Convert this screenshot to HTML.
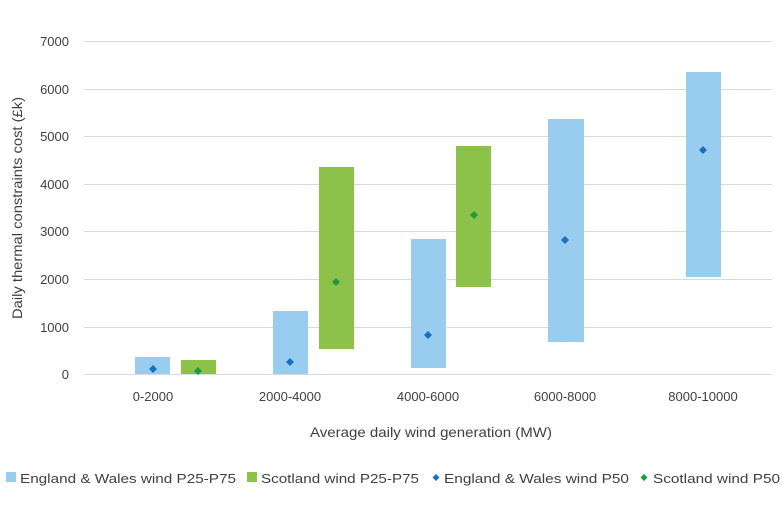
<!DOCTYPE html>
<html><head><meta charset="utf-8"><style>
body{margin:0;background:#fff;}
svg text{font-family:"Liberation Sans",sans-serif;fill:#404040;}
</style></head><body>
<svg width="782" height="515" viewBox="0 0 782 515" xmlns="http://www.w3.org/2000/svg">
<g stroke="#d9d9d9" stroke-width="1">
<line x1="84" x2="772" y1="41.5" y2="41.5"/>
<line x1="84" x2="772" y1="89.5" y2="89.5"/>
<line x1="84" x2="772" y1="136.5" y2="136.5"/>
<line x1="84" x2="772" y1="184.5" y2="184.5"/>
<line x1="84" x2="772" y1="231.5" y2="231.5"/>
<line x1="84" x2="772" y1="279.5" y2="279.5"/>
<line x1="84" x2="772" y1="327.5" y2="327.5"/>
<line x1="84" x2="772" y1="374.5" y2="374.5"/>
</g>
<g font-size="13" text-anchor="end">
<text x="69" y="46">7000</text>
<text x="69" y="94">6000</text>
<text x="69" y="141">5000</text>
<text x="69" y="189">4000</text>
<text x="69" y="236">3000</text>
<text x="69" y="284">2000</text>
<text x="69" y="332">1000</text>
<text x="69" y="379">0</text>
</g>
<text font-size="14" transform="translate(22,208) rotate(-90)" text-anchor="middle" textLength="222" lengthAdjust="spacingAndGlyphs">Daily thermal constraints cost (£k)</text>
<g fill="#98cdf0">
<rect x="135" y="357" width="35" height="17"/>
<rect x="273" y="311" width="35" height="63"/>
<rect x="411" y="239" width="35" height="129"/>
<rect x="548" y="119" width="36" height="223"/>
<rect x="686" y="72" width="35" height="205"/>
</g>
<g fill="#8dc24a">
<rect x="181" y="360" width="35" height="14"/>
<rect x="319" y="167" width="35" height="182"/>
<rect x="456" y="146" width="35" height="141"/>
</g>
<g fill="#1a6fc0">
<path d="M153 365l4 4-4 4-4-4z"/><path d="M290 358l4 4-4 4-4-4z"/><path d="M428 331l4 4-4 4-4-4z"/><path d="M565 236l4 4-4 4-4-4z"/><path d="M703 146l4 4-4 4-4-4z"/>
</g>
<g fill="#1f9a40">
<path d="M198 367l4 4-4 4-4-4z"/><path d="M336 278l4 4-4 4-4-4z"/><path d="M474 211l4 4-4 4-4-4z"/>
</g>
<g font-size="13" text-anchor="middle">
<text x="153" y="401">0-2000</text>
<text x="290" y="401">2000-4000</text>
<text x="428" y="401">4000-6000</text>
<text x="565" y="401">6000-8000</text>
<text x="703" y="401">8000-10000</text>
</g>
<text x="310" y="437" font-size="14" textLength="242" lengthAdjust="spacingAndGlyphs">Average daily wind generation (MW)</text>
<g font-size="13">
<rect x="6" y="472" width="10" height="10" fill="#98cdf0"/><text x="20" y="483" textLength="216" lengthAdjust="spacingAndGlyphs">England &amp; Wales wind P25-P75</text>
<rect x="247" y="472" width="10" height="10" fill="#8dc24a"/><text x="261" y="483" textLength="158" lengthAdjust="spacingAndGlyphs">Scotland wind P25-P75</text>
<path d="M436 474l3.5 3.5-3.5 3.5-3.5-3.5z" fill="#1a6fc0"/><text x="444" y="483" textLength="185" lengthAdjust="spacingAndGlyphs">England &amp; Wales wind P50</text>
<path d="M644 474l3.5 3.5-3.5 3.5-3.5-3.5z" fill="#1f9a40"/><text x="653" y="483" textLength="127" lengthAdjust="spacingAndGlyphs">Scotland wind P50</text>
</g>
</svg>
</body></html>
